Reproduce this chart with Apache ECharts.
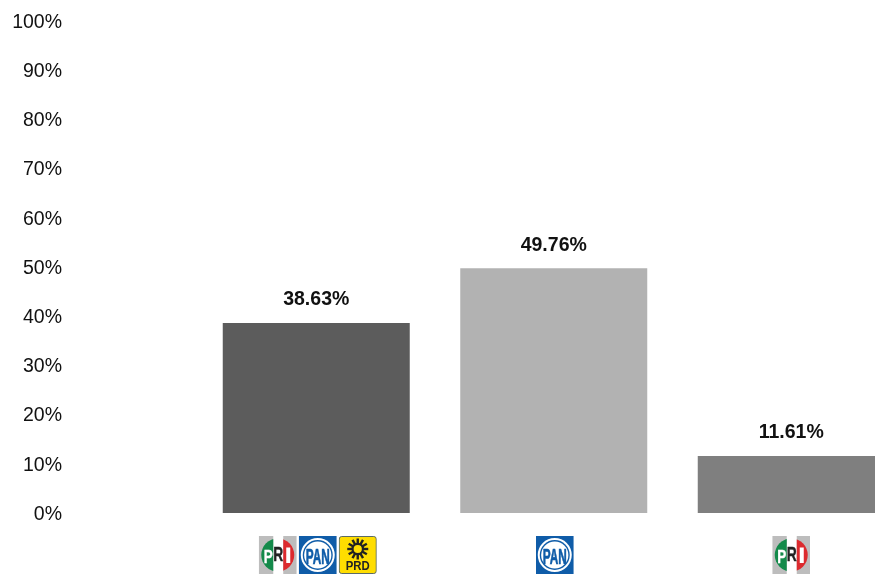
<!DOCTYPE html>
<html>
<head>
<meta charset="utf-8">
<style>html,body{margin:0;padding:0;background:#fff}#c{width:875px;height:574px}</style>
<script src="https://cdn.jsdelivr.net/npm/echarts@6/dist/echarts.min.js"></script>
</head>
<body>
<div id="c"></div>
<script>
const categories = ['PRI-PAN-PRD', 'PAN', 'PRI'];
const values = [38.63, 49.76, 11.61];
const barColors = ['#5C5C5C', '#B2B2B2', '#7F7F7F'];
const yTicks = [0, 10, 20, 30, 40, 50, 60, 70, 80, 90, 100];

function svg(body) {
  return 'data:image/svg+xml;charset=utf-8,' + encodeURIComponent(
    '<svg xmlns="http://www.w3.org/2000/svg" width="38" height="38" viewBox="0 0 38 38">' + body + '</svg>');
}
const font = 'font-family="Liberation Sans" font-weight="bold" text-anchor="middle"';
const priLogo = svg(
  '<rect width="38" height="38" fill="#fff"/>' +
  '<rect width="14.5" height="38" fill="#BDBDBD"/><rect x="24.5" width="13.5" height="38" fill="#BDBDBD"/>' +
  '<clipPath id="l"><rect width="14.5" height="38"/></clipPath><clipPath id="r"><rect x="24.5" width="14" height="38"/></clipPath>' +
  '<circle cx="19" cy="19" r="16.5" fill="#138A4A" clip-path="url(#l)"/>' +
  '<circle cx="19" cy="19" r="16.5" fill="#DC2A2E" clip-path="url(#r)"/>' +
  '<text x="9.5" y="27" font-size="19" textLength="9" lengthAdjust="spacingAndGlyphs" ' + font + ' fill="#fff" stroke="#fff" stroke-width=".4">P</text>' +
  '<text x="19.5" y="25" font-size="20" textLength="10" lengthAdjust="spacingAndGlyphs" ' + font + ' fill="#222" stroke="#222" stroke-width=".4">R</text>' +
  '<rect x="27.5" y="11.5" width="4" height="15.5" fill="#fff"/>');
const panLogo = svg(
  '<rect width="38" height="38" fill="#0F5CA8"/>' +
  '<circle cx="19" cy="19" r="17" fill="#fff"/><circle cx="19" cy="19" r="15" fill="#0F5CA8"/>' +
  '<circle cx="19" cy="19" r="13.6" fill="#fff"/>' +
  '<text x="19" y="27.5" font-size="22" textLength="24" lengthAdjust="spacingAndGlyphs" ' + font + ' fill="#0F5CA8" stroke="#0F5CA8" stroke-width=".7">PAN</text>');
const rays = Array.from('012345678901').map((_, i) =>
  '<rect x="17.8" y="2.5" width="2.4" height="5" fill="#222" transform="rotate(' + i * 30 + ' 19 13)"/>').join('');
const prdLogo = svg(
  '<rect x=".5" y=".5" width="37" height="37" rx="2.5" fill="#FFDD00" stroke="#5B6B66"/>' + rays +
  '<circle cx="19" cy="13" r="5.2" fill="#FFDD00" stroke="#222" stroke-width="2.2"/>' +
  '<text x="19" y="34" font-size="12.5" ' + font + ' fill="#222" textLength="24" lengthAdjust="spacingAndGlyphs">PRD</text>');

const logoStyle = img => ({ width: 38, height: 38, backgroundColor: { image: img } });
const labelMarkup = {
  'PRI-PAN-PRD': '{lead|}{pri|}{gap|}{pan|}{gap|}{prd|}',
  'PAN': '{gap|}{pan|}',
  'PRI': '{pri|}'
};

const chart = echarts.init(document.getElementById('c'));
chart.setOption({
  animation: false,
  backgroundColor: '#fff',
  grid: { left: 197.5, width: 712.5, top: 21, height: 492, containLabel: false, outerBoundsMode: 'none' },
  xAxis: {
    type: 'category',
    data: categories,
    axisLine: { show: false },
    axisTick: { show: false },
    axisLabel: {
      interval: 0,
      margin: 23,
      hideOverlap: false,
      formatter: v => labelMarkup[v],
      rich: {
        pri: logoStyle(priLogo),
        pan: logoStyle(panLogo),
        prd: logoStyle(prdLogo),
        gap: { width: 2, height: 38 },
        lead: { width: 3, height: 38 }
      }
    }
  },
  yAxis: {
    type: 'value',
    min: yTicks[0],
    max: yTicks[yTicks.length - 1],
    interval: yTicks[1] - yTicks[0],
    splitLine: { show: false },
    axisLine: { show: false },
    axisTick: { show: false },
    axisLabel: {
      formatter: '{value}%',
      margin: 135.5,
      verticalAlign: 'top',
      lineHeight: 3,
      fontFamily: 'Liberation Sans',
      fontSize: 19.5,
      color: '#111'
    }
  },
  series: [{
    type: 'bar',
    barWidth: 187,
    clip: false,
    data: values.map((v, i) => ({ value: v, itemStyle: { color: barColors[i] } })),
    label: {
      show: true,
      position: 'top',
      distance: 13,
      formatter: p => p.value.toFixed(2) + '%',
      fontFamily: 'Liberation Sans',
      fontWeight: 'bold',
      fontSize: 19.5,
      color: '#111'
    }
  }]
});
</script>
</body>
</html>
